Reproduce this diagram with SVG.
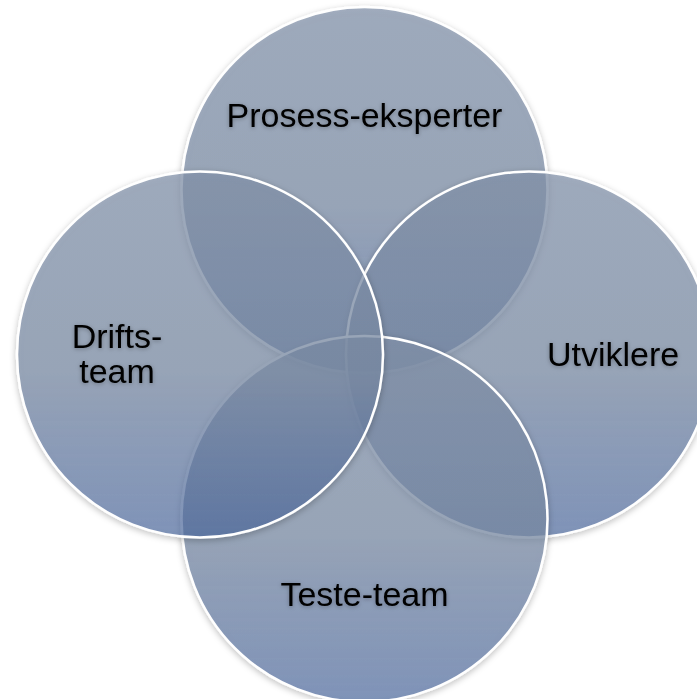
<svg xmlns="http://www.w3.org/2000/svg" width="697" height="699" viewBox="0 0 697 699">
<defs>
<linearGradient id="g" x1="0" y1="0" x2="0" y2="1">
<stop offset="0" stop-color="#8494ac" stop-opacity="0.7"/>
<stop offset="0.55" stop-color="#7b8ca6" stop-opacity="0.7"/>
<stop offset="1" stop-color="#4a68a0" stop-opacity="0.62"/>
</linearGradient>
<filter id="sh" x="-10%" y="-10%" width="120%" height="120%">
<feDropShadow dx="0" dy="2" stdDeviation="3" flood-color="#000" flood-opacity="0.3"/>
</filter>
<filter id="tsh" x="-10%" y="-30%" width="120%" height="160%">
<feDropShadow dx="0" dy="1" stdDeviation="2" flood-color="#000" flood-opacity="0.3"/>
</filter>
</defs>
<style>
.c{fill:url(#g);stroke:#fff;stroke-width:2.5;filter:url(#sh)}
.t{font-family:"Liberation Sans",Arial,sans-serif;font-size:34px;fill:#000;text-anchor:middle;filter:url(#tsh)}
</style>
<g id="prosess">
<circle class="c" cx="364.5" cy="190" r="183"/>
<text class="t" x="364.5" y="127">Prosess-eksperter</text>
</g>
<g id="utviklere">
<circle class="c" cx="529" cy="354.5" r="183"/>
<text class="t" x="613" y="366">Utviklere</text>
</g>
<g id="teste">
<circle class="c" cx="364.5" cy="519" r="183"/>
<text class="t" x="364.5" y="606">Teste-team</text>
</g>
<g id="drifts">
<circle class="c" cx="200" cy="354.5" r="183"/>
<text class="t" x="117" y="348">Drifts-</text>
<text class="t" x="117" y="383">team</text>
</g>
<g id="connectors"/>
</svg>
